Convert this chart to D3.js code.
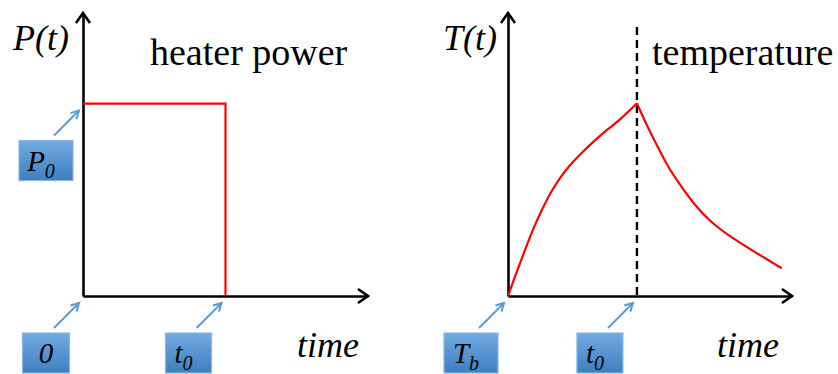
<!DOCTYPE html>
<html>
<head>
<meta charset="utf-8">
<script src="https://cdn.jsdelivr.net/npm/d3@7"></script>
</head>
<body style="margin:0">
<svg id="chart" width="838" height="374"></svg>
<script>
// heater power: step on at 0, off at t0
const t0Power = 5;
const P0 = 6.8;
const powerTimes = [0, t0Power, t0Power];
const powerValues = [P0, P0, 0];

// temperature: heating up to t0, then cooling
const t0Temp = 4.54;
const heatTimes = [0, 0.31, 0.60, 0.89, 1.19, 1.48, 1.83, 2.18, 2.54, 3.00, 3.48, 3.94, 4.54];
const heatValues = [0, 0.86, 1.63, 2.39, 3.04, 3.63, 4.18, 4.63, 5.01, 5.45, 5.87, 6.22, 6.81];
const coolTimes = [4.54, 4.88, 5.24, 5.59, 6.06, 6.52, 7.11, 7.82, 8.52, 9.11, 9.64];
const coolValues = [6.81, 6.04, 5.34, 4.63, 3.92, 3.28, 2.63, 2.10, 1.66, 1.30, 0.98];

// labels
const panelTitles = ["heater power", "temperature"];
const yLabels = ["P(t)", "T(t)"];
const xLabel = "time";

const FONT = "Liberation Serif";

const svg = d3.select("#chart");

const defs = svg.append("defs");
const grad = defs.append("linearGradient")
    .attr("id", "boxFill")
    .attr("x1", 0).attr("y1", 0).attr("x2", 0).attr("y2", 1);
grad.append("stop").attr("offset", "0%").attr("stop-color", "#72aae0");
grad.append("stop").attr("offset", "100%").attr("stop-color", "#3f7ec1");

// marks go underneath, text on top
const marks = svg.append("g");
const texts = svg.append("g");

// scales: both panels use 0..10 domains
const xL = d3.scaleLinear().domain([0, 10]).range([83, 368]);
const yL = d3.scaleLinear().domain([0, 10]).range([296, 13]);
const xR = d3.scaleLinear().domain([0, 10]).range([508, 792]);
const yR = d3.scaleLinear().domain([0, 10]).range([296, 13]);

function label(x, y, str, size, italic) {
    const t = texts.append("text")
        .attr("x", x).attr("y", y)
        .attr("font-family", FONT)
        .attr("font-size", size)
        .text(str);
    if (italic) t.attr("font-style", "italic");
    t.node().getComputedTextLength();
    return t;
}

function drawAxes(x, y) {
    const gx = marks.append("g").attr("transform", `translate(0,${y(0)})`)
        .call(d3.axisBottom(x).tickValues([]).tickSizeOuter(0));
    const gy = marks.append("g").attr("transform", `translate(${x(0)},0)`)
        .call(d3.axisLeft(y).tickValues([]).tickSizeOuter(0));
    [gx, gy].forEach(g => g.select(".domain")
        .attr("stroke", "#000").attr("stroke-width", 2.6));

    // open arrowheads at the far ends
    const xe = x.range()[1], ye = y.range()[1];
    const head = d3.line();
    marks.append("path")
        .attr("d", head([[xe - 10, y(0) - 7], [xe, y(0)], [xe - 10, y(0) + 7]]))
        .attr("fill", "none").attr("stroke", "#000").attr("stroke-width", 2.6);
    marks.append("path")
        .attr("d", head([[x(0) - 7, ye + 10], [x(0), ye], [x(0) + 7, ye + 10]]))
        .attr("fill", "none").attr("stroke", "#000").attr("stroke-width", 2.6);
}

function callout(tx, ty, main, sub, w) {
    // arrow from box towards the point (tx, ty)
    const sx = tx - 29, sy = ty + 32;
    const ex = tx - 4, ey = ty + 7;
    const cx = sx - 8, top = sy + 5, h = 40;

    const t = label(cx - (sub ? 5 : 0), top + 30, main, 29, true)
        .attr("text-anchor", "middle");
    if (sub) {
        t.append("tspan").attr("dy", 7).attr("font-size", 20).text(sub);
    }

    marks.append("line")
        .attr("x1", sx).attr("y1", sy).attr("x2", ex).attr("y2", ey)
        .attr("stroke", "#5b9bd5").attr("stroke-width", 2);
    const ang = Math.atan2(ey - sy, ex - sx);
    const hl = 9, ha = 0.5;
    marks.append("path")
        .attr("d", d3.line()([
            [ex - hl * Math.cos(ang - ha), ey - hl * Math.sin(ang - ha)],
            [ex, ey],
            [ex - hl * Math.cos(ang + ha), ey - hl * Math.sin(ang + ha)]
        ]))
        .attr("fill", "none").attr("stroke", "#5b9bd5").attr("stroke-width", 2);
    marks.append("rect")
        .attr("x", cx - w / 2).attr("y", top).attr("width", w).attr("height", h)
        .attr("fill", "url(#boxFill)").attr("stroke", "#86b6e6").attr("stroke-width", 1.2);
}

// ---------- text first ----------
label(13, 50, yLabels[0], 36, true);
label(150, 65, panelTitles[0], 38, false);
label(297, 357, xLabel, 36, true);
label(443, 50, yLabels[1], 36, true);
label(652, 65, panelTitles[1], 38, false);
label(717, 357, xLabel, 36, true);

// ---------- left panel: heater power ----------
drawAxes(xL, yL);

marks.append("path")
    .datum(powerTimes.map((t, i) => [t, powerValues[i]]))
    .attr("d", d3.line().x(d => xL(d[0])).y(d => yL(d[1])))
    .attr("fill", "none").attr("stroke", "#ff0000").attr("stroke-width", 2.2);

callout(xL(0), yL(P0), "P", "0", 54);
callout(xL(0), yL(0), "0", null, 47);
callout(xL(t0Power), yL(0), "t", "0", 46);

// ---------- right panel: temperature ----------
drawAxes(xR, yR);

marks.append("line")
    .attr("x1", xR(t0Temp)).attr("x2", xR(t0Temp))
    .attr("y1", yR.range()[1] + 14).attr("y2", yR(0))
    .attr("stroke", "#000").attr("stroke-width", 2.4)
    .attr("stroke-dasharray", "8,5");

const tempLine = d3.line()
    .x(d => xR(d[0])).y(d => yR(d[1]))
    .curve(d3.curveBasis);
[[heatTimes, heatValues], [coolTimes, coolValues]].forEach(([ts, vs]) => {
    marks.append("path")
        .datum(ts.map((t, i) => [t, vs[i]]))
        .attr("d", tempLine)
        .attr("fill", "none").attr("stroke", "#ff0000").attr("stroke-width", 2.2);
});

callout(xR(0), yR(0), "T", "b", 54);
callout(xR(t0Temp), yR(0), "t", "0", 46);
</script>
</body>
</html>
